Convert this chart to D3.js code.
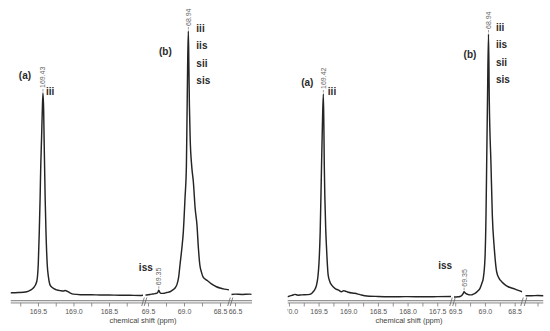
<!DOCTYPE html>
<html>
<head>
<meta charset="utf-8">
<script src="https://cdn.jsdelivr.net/npm/d3@7"></script>
<style>
  html, body { margin: 0; padding: 0; background: #fff; }
  svg { display: block; }
  text { font-family: "Liberation Sans", Arial, sans-serif; }
</style>
</head>
<body>
<svg id="chart" width="550" height="331"></svg>
<script>
// ---------- 13C NMR spectra: carbonyl (~169 ppm) and methine (~69 ppm) regions ----------
// Each spectrum piece is a list of [chemical shift (ppm), relative intensity].

// Spectrum 1: carbonyl region
const spec1Carbonyl = [
  [169.887, 1.1], [169.870, 1.2], [169.780, 1.3], [169.659, 1.6], [169.600, 2.3],
  [169.566, 3.0], [169.518, 5.4], [169.496, 12.0], [169.482, 24.0], [169.470, 37.0],
  [169.461, 49.0], [169.449, 60.0], [169.439, 70.0], [169.430, 76.6], [169.420, 70.0],
  [169.413, 58.0], [169.407, 49.0], [169.399, 37.0], [169.387, 24.0], [169.370, 12.0],
  [169.352, 7.0], [169.331, 4.2], [169.300, 3.2], [169.237, 2.3], [169.180, 2.0],
  [169.144, 1.9], [169.115, 2.1], [169.096, 1.9], [169.050, 1.2], [169.003, 0.7],
  [168.900, 0.5], [168.750, 0.45], [168.627, 0.4], [168.500, 0.35], [168.350, 0.3],
  [168.200, 0.25], [168.063, 0.2], [168.021, 0.3]
];
// Spectrum 1: methine region
const spec1Methine = [
  [69.535, 0.4], [69.518, 0.4], [69.450, 0.7], [69.403, 0.9], [69.375, 1.1],
  [69.362, 1.5], [69.350, 2.2], [69.338, 1.5], [69.320, 1.0], [69.290, 1.0],
  [69.240, 1.3], [69.194, 1.6], [69.150, 2.4], [69.125, 3.0], [69.100, 4.2],
  [69.075, 7.0], [69.056, 11.7], [69.030, 18.0], [69.010, 24.0], [68.986, 37.0],
  [68.967, 49.0], [68.958, 68.0], [68.950, 86.0], [68.940, 100.0], [68.932, 86.0],
  [68.925, 72.0], [68.915, 60.0], [68.893, 49.0], [68.870, 43.0], [68.845, 33.0],
  [68.820, 26.8], [68.800, 18.0], [68.780, 11.7], [68.758, 9.0], [68.736, 7.2],
  [68.685, 6.0], [68.640, 5.0], [68.597, 4.2], [68.550, 3.5], [68.500, 3.0],
  [68.440, 2.6], [68.375, 2.3]
];
// Spectrum 1: far tail
const spec1Tail = [[66.549, 0.6], [66.500, 0.7], [66.400, 0.6], [66.300, 0.7], [66.271, 0.6]];

// Spectrum 2: carbonyl region
const spec2Carbonyl = [
  [170.024, 0.1], [169.950, 0.6], [169.898, 1.0], [169.850, 0.7], [169.786, 0.8],
  [169.680, 0.9], [169.620, 1.3], [169.591, 2.0], [169.555, 3.2], [169.534, 4.6],
  [169.510, 8.0], [169.495, 12.2], [169.473, 24.8], [169.461, 37.6], [169.450, 50.2],
  [169.436, 65.0], [169.420, 77.2], [169.411, 65.0], [169.404, 50.2], [169.394, 37.6],
  [169.380, 26.0], [169.366, 18.6], [169.339, 8.4], [169.310, 5.8], [169.282, 4.6],
  [169.220, 3.2], [169.171, 2.7], [169.113, 2.0], [169.080, 2.4], [169.058, 2.3],
  [169.000, 1.8], [168.890, 1.4], [168.800, 0.9], [168.722, 0.5], [168.500, 0.2],
  [168.273, 0.1], [168.000, 0.15], [167.713, 0.1], [167.500, 0.15], [167.268, 0.2]
];
// Spectrum 2: methine region
const spec2Methine = [
  [69.520, 0.0], [69.503, 0.0], [69.450, 0.1], [69.419, 0.2], [69.390, 0.6],
  [69.364, 1.4], [69.350, 2.0], [69.335, 1.6], [69.290, 1.0], [69.255, 0.8],
  [69.223, 0.8], [69.195, 1.1], [69.167, 1.4], [69.120, 2.3], [69.083, 3.3],
  [69.050, 5.3], [69.028, 7.1], [68.999, 14.8], [68.982, 31.2], [68.971, 50.2],
  [68.957, 74.9], [68.940, 100.0], [68.927, 74.9], [68.898, 50.2], [68.876, 31.2],
  [68.843, 18.6], [68.803, 9.6], [68.760, 7.0], [68.718, 5.8], [68.660, 4.6],
  [68.608, 3.9], [68.550, 3.4], [68.495, 3.0], [68.440, 2.5], [68.377, 2.0]
];
// Spectrum 2: far tail
const spec2Tail = [[66.700, 0.5], [66.600, 0.5], [66.500, 0.55], [66.400, 0.5]];

// Visible ppm window of each axis piece
const spec1Domains = [[169.887, 168.021], [69.535, 68.375], [66.549, 66.271]];
const spec2Domains = [[170.024, 167.268], [69.520, 68.377], [66.700, 66.400]];

// Labelled and unlabelled tick values of each axis piece
const spec1Major = [[169.5, 169.0, 168.5], [69.5, 69.0, 68.5], [66.5]];
const spec1Minor = [[169.75, 169.25, 168.75, 168.25], [69.25, 68.75], []];
const spec2Major = [[170.0, 169.5, 169.0, 168.5, 168.0, 167.5], [69.5, 69.0, 68.5], []];
const spec2Minor = [[169.75, 169.25, 168.75, 168.25, 167.75], [69.25, 68.75], [66.5]];

// Picked peaks: [ppm, axis piece]
const spec1Peaks = [[169.43, 0], [68.94, 1], [69.35, 1]];
const spec2Peaks = [[169.42, 0], [68.94, 1], [69.35, 1]];

// Stereosequence assignments
const carbonylTriads = ["iii"];
const methineTriads = ["iii", "iis", "sii", "sis"];
const minorTriads = ["iss"];
const regionTags = ["(a)", "(b)"];
const axisTitle = "chemical shift (ppm)";

// ---------- layout ----------
const panels = [
  {
    clip: [10.5, 252], yRange: [296, 31],
    ranges: [[10.5, 143], [145.5, 229], [231.5, 251.5]],
    data: [spec1Carbonyl, spec1Methine, spec1Tail],
    domains: spec1Domains, major: spec1Major, minor: spec1Minor, peaks: spec1Peaks,
    tagA: { dx: -18, y: 79 }, triadA: { dx: 3, y: 95 },
    tagB: { dx: -23, y: 55 }, triadB: { dx: 8, y0: 32, step: 17.3 },
    minor3: { dx: -13, y: 271 }
  },
  {
    clip: [287.5, 543.5], yRange: [297, 34],
    ranges: [[287.5, 451], [454, 522], [525.5, 543.5]],
    data: [spec2Carbonyl, spec2Methine, spec2Tail],
    domains: spec2Domains, major: spec2Major, minor: spec2Minor, peaks: spec2Peaks,
    tagA: { dx: -16, y: 86 }, triadA: { dx: 4.5, y: 95 },
    tagB: { dx: -18.5, y: 58 }, triadB: { dx: 7.5, y0: 31, step: 17.3 },
    minor3: { dx: -19, y: 269 }
  }
];

const axisTop = 300.5, axisBottom = 303;
const svg = d3.select("#chart");

panels.forEach((p, pi) => {
  const clipId = "panel-clip-" + pi;
  svg.append("clipPath").attr("id", clipId)
    .append("rect").attr("x", p.clip[0]).attr("y", 0)
    .attr("width", p.clip[1] - p.clip[0]).attr("height", 331);
  const g = svg.append("g").attr("clip-path", `url(#${clipId})`);

  const y = d3.scaleLinear().domain([0, 100]).range(p.yRange);

  // double-rule axis band
  g.append("rect").attr("x", p.clip[0]).attr("y", axisTop)
    .attr("width", p.clip[1] - p.clip[0]).attr("height", axisBottom - axisTop)
    .attr("fill", "#e2e2e2");
  [axisTop, axisBottom].forEach(yy => {
    g.append("line").attr("x1", p.clip[0]).attr("x2", p.clip[1])
      .attr("y1", yy).attr("y2", yy)
      .attr("stroke", "#8a8a8a").attr("stroke-width", 0.9);
  });

  const xs = p.ranges.map((r, i) => d3.scaleLinear().domain(p.domains[i]).range(r));

  xs.forEach((x, i) => {
    // spectrum trace
    const line = d3.line().x(d => x(d[0])).y(d => y(d[1])).curve(d3.curveMonotoneX);
    g.append("path").datum(p.data[i]).attr("d", line)
      .attr("fill", "none").attr("stroke", "#242424")
      .attr("stroke-width", 1.45).attr("stroke-linejoin", "round");

    // ticks and labels
    const majors = p.major[i];
    const axis = d3.axisBottom(x)
      .tickValues(majors.concat(p.minor[i]))
      .tickSize(3.5).tickPadding(3)
      .tickFormat(d => majors.includes(d) ? d.toFixed(1) : "");
    const ag = g.append("g").attr("transform", `translate(0,${axisBottom})`).call(axis);
    ag.select(".domain").remove();
    ag.selectAll(".tick line").attr("stroke", "#777").attr("stroke-width", 0.8);
    ag.selectAll(".tick text")
      .attr("fill", "#555").style("font-size", "7px")
      .style("font-family", '"Liberation Sans", Arial, sans-serif');
  });

  // axis break marks
  for (let i = 0; i < xs.length - 1; i++) {
    [p.ranges[i][1], p.ranges[i + 1][0]].forEach(bx => {
      g.append("line").attr("x1", bx - 1.3).attr("y1", axisBottom + 3)
        .attr("x2", bx + 1.3).attr("y2", axisTop - 3)
        .attr("stroke", "#666").attr("stroke-width", 0.8);
    });
  }

  // peak picks: short leader and rotated value
  const peakPos = p.peaks.map(([ppm, seg]) => {
    const pts = p.data[seg];
    const hit = pts.reduce((a, b) => Math.abs(b[0] - ppm) < Math.abs(a[0] - ppm) ? b : a);
    return { ppm, px: xs[seg](ppm), py: y(hit[1]) };
  });
  peakPos.forEach(pk => {
    g.append("line").attr("x1", pk.px).attr("x2", pk.px)
      .attr("y1", pk.py - 1.5).attr("y2", pk.py - 4)
      .attr("stroke", "#777").attr("stroke-width", 0.7);
    g.append("text")
      .attr("transform", `translate(${pk.px},${pk.py - 5}) rotate(-90)`)
      .attr("dominant-baseline", "central")
      .attr("fill", "#666").style("font-size", "7px")
      .text(pk.ppm.toFixed(2));
  });

  const bold = sel => sel.attr("fill", "#2a2a2a").style("font-size", "10px").style("font-weight", "bold");
  const [pa, pb, pc] = peakPos;

  bold(g.append("text").attr("x", pa.px + p.tagA.dx).attr("y", p.tagA.y)
    .attr("text-anchor", "middle").text(regionTags[0]));
  carbonylTriads.forEach((t, k) => {
    bold(g.append("text").attr("x", pa.px + p.triadA.dx).attr("y", p.triadA.y + k * 17.3).text(t));
  });

  bold(g.append("text").attr("x", pb.px + p.tagB.dx).attr("y", p.tagB.y)
    .attr("text-anchor", "middle").text(regionTags[1]));
  methineTriads.forEach((t, k) => {
    bold(g.append("text").attr("x", pb.px + p.triadB.dx)
      .attr("y", p.triadB.y0 + k * p.triadB.step).text(t));
  });

  minorTriads.forEach(t => {
    bold(g.append("text").attr("x", pc.px + p.minor3.dx).attr("y", p.minor3.y)
      .attr("text-anchor", "middle").text(t));
  });

  // axis title
  svg.append("text")
    .attr("x", pi === 0 ? 143 : 409).attr("y", 322.5)
    .attr("text-anchor", "middle").attr("fill", "#444")
    .style("font-size", "7.5px").text(axisTitle);
});
</script>
</body>
</html>
